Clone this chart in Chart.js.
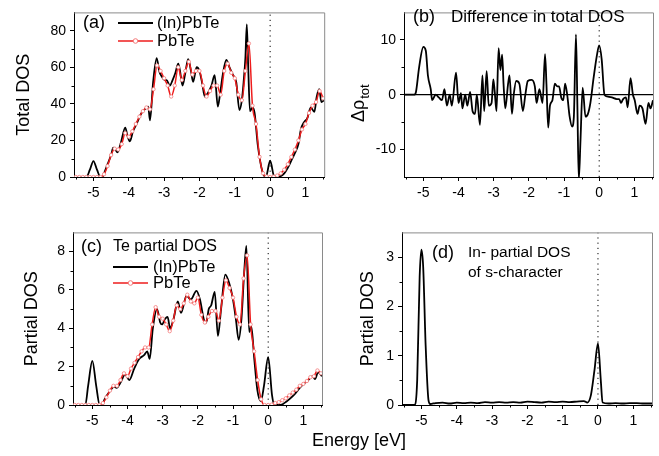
<!DOCTYPE html>
<html>
<head>
<meta charset="utf-8">
<script src="https://cdn.jsdelivr.net/npm/chart.js@4.4.0/dist/chart.umd.min.js"></script>
<style>
  body { margin: 0; background: #fff; width: 659px; height: 456px; overflow: hidden; position: relative;
         font-family: "Liberation Sans", Arial, sans-serif; }
  canvas { position: absolute; }
  #xlabel { position: absolute; left: 312px; top: 430px; font-size: 18px; line-height: 20px; color: #000; }
</style>
</head>
<body>
<canvas id="panelA" width="329" height="210" style="left:0;top:0"></canvas>
<canvas id="panelB" width="330" height="210" style="left:329px;top:0"></canvas>
<canvas id="panelC" width="329" height="236" style="left:0;top:220px"></canvas>
<canvas id="panelD" width="330" height="236" style="left:329px;top:220px"></canvas>
<div id="xlabel">Energy [eV]</div>
<script>
// energy axis
const xTicks = [-5, -4, -3, -2, -1, 0, 1];
const xMinor = [-5.5, -4.5, -3.5, -2.5, -1.5, -0.5, 0.5, 1.5];

// PbTe reference curves sampled every 0.1 eV
const energyGrid = [-5.5, -5.4, -5.3, -5.2, -5.1, -5.0, -4.9, -4.8, -4.7, -4.6,
  -4.5, -4.4, -4.3, -4.2, -4.1, -4.0, -3.9, -3.8, -3.7, -3.6,
  -3.5, -3.4, -3.3, -3.2, -3.1, -3.0, -2.9, -2.8, -2.7, -2.6,
  -2.5, -2.4, -2.3, -2.2, -2.1, -2.0, -1.9, -1.8, -1.7, -1.6,
  -1.5, -1.4, -1.3, -1.2, -1.1, -1.0, -0.9, -0.8, -0.7, -0.6,
  -0.5, -0.4, -0.3, -0.2, -0.1, 0.0, 0.1, 0.2, 0.3, 0.4,
  0.5, 0.6, 0.7, 0.8, 0.9, 1.0, 1.1, 1.2, 1.3, 1.4, 1.5];
const pbteTotal = [0, 0, 0, 0, 0, 0, 0, 0, 1.5, 6,
  12, 15.5, 15, 18, 24, 22, 25, 29, 33, 36,
  38, 37, 48, 61, 58, 54, 50, 44, 50, 60,
  53, 58, 63, 56, 58, 58, 50, 44, 47, 50,
  50, 45, 58, 62, 57, 54, 45, 42, 58, 73,
  39, 29, 11, 2, 0.3, 0, 0.2, 0.8, 2, 4,
  7, 11, 15, 20, 26, 29, 35, 39, 41, 47, 43];
const pbteTe = [0, 0, 0, 0, 0, 0, 0, 0, 0.1, 0.4,
  0.75, 1.0, 1.0, 1.3, 1.65, 1.5, 1.9, 2.2, 2.5, 2.8,
  3.0, 3.0, 4.2, 5.1, 4.6, 4.5, 4.2, 3.85, 4.4, 5.2,
  5.0, 5.3, 5.75, 5.4, 5.3, 5.6, 4.7, 4.3, 4.6, 4.9,
  4.9, 4.4, 5.6, 6.5, 6.1, 5.6, 4.6, 4.2, 6.6, 7.8,
  4.2, 2.8, 1.3, 0.3, 0, 0, 0.02, 0.1, 0.15, 0.25,
  0.35, 0.5, 0.65, 0.8, 1.0, 1.1, 1.25, 1.45, 1.5, 1.8, 1.65];

// (In)PbTe total DOS
const inTotalE = [-5.55, -5.20, -5.10, -5.00, -4.90, -4.80, -4.75, -4.70, -4.60, -4.50,
  -4.44, -4.38, -4.32, -4.22, -4.10, -4.03, -3.97, -3.88, -3.78, -3.64,
  -3.55, -3.45, -3.40, -3.31, -3.21, -3.14, -3.07, -2.98, -2.93, -2.84,
  -2.76, -2.68, -2.60, -2.55, -2.48, -2.40, -2.32, -2.24, -2.18, -2.08,
  -2.00, -1.92, -1.85, -1.76, -1.66, -1.57, -1.48, -1.42, -1.34, -1.24,
  -1.15, -1.05, -0.96, -0.87, -0.80, -0.75, -0.70, -0.66, -0.62, -0.57,
  -0.50, -0.44, -0.35, -0.25, -0.18, -0.12, 0.00, 0.12, 0.30, 0.40,
  0.50, 0.60, 0.70, 0.80, 0.87, 0.96, 1.05, 1.15, 1.25, 1.32,
  1.39, 1.45, 1.53];
const inTotalDos = [0, 0, 4, 8.7, 4, 0, 0, 2, 7, 12,
  16, 15, 13.5, 19, 27, 22, 19.5, 25, 29, 35,
  37, 38.5, 31, 52, 65, 58, 55, 53, 53, 50,
  53, 57, 62, 58, 50, 57, 64.5, 58, 52, 60,
  58, 51, 44, 46, 50, 55.7, 38.5, 45, 56, 64,
  60, 55.7, 52, 36.6, 42, 52, 65, 83.5, 60, 36,
  38, 35, 17.5, 5.4, 1, 0, 8.9, 0, 0.5, 2,
  5, 9, 13, 18, 26, 30, 32, 38, 35.6, 44,
  48, 41, 42];

// difference in total DOS
const diffE = [-5.55, -5.26, -5.21, -5.12, -5.00, -4.93, -4.87, -4.79, -4.75, -4.65,
  -4.56, -4.47, -4.40, -4.33, -4.25, -4.19, -4.07, -4.00, -3.93, -3.89,
  -3.81, -3.75, -3.67, -3.60, -3.53, -3.48, -3.39, -3.32, -3.27, -3.20,
  -3.14, -3.06, -3.01, -2.97, -2.92, -2.86, -2.81, -2.76, -2.72, -2.67,
  -2.59, -2.55, -2.48, -2.43, -2.36, -2.27, -2.17, -2.10, -2.03, -1.92,
  -1.83, -1.78, -1.70, -1.61, -1.54, -1.50, -1.45, -1.40, -1.33, -1.26,
  -1.19, -1.14, -1.08, -1.02, -0.97, -0.91, -0.84, -0.77, -0.72, -0.66,
  -0.62, -0.58, -0.53, -0.47, -0.39, -0.32, -0.25, -0.16, -0.07, 0.00,
  0.07, 0.15, 0.22, 0.36, 0.50, 0.57, 0.62, 0.68, 0.76, 0.81,
  0.89, 0.96, 1.01, 1.09, 1.15, 1.23, 1.32, 1.40, 1.46, 1.53];
const diffVal = [0, 0, 0.5, 5, 8.7, 8, 3.5, 1, -1, 0,
  -0.5, -1, 1, -2, 0, -2, 4, -1.5, 0.3, -2.5,
  0, -2, 0.5, -3, -3.5, 0, -5.5, 3.5, -3, 4.3,
  -2, -1.5, 2.8, 0.5, -3, 8.5, 4.5, 7.3, 2, -2.5,
  2, 3.5, -3.5, 0, 2.5, 2, -3, 0, 2.5, 2.7,
  1.5, -1.5, 1, -1.5, 7.4, 2, -6, -2, -1, 2,
  1.5, 1.5, -0.5, -1, 2, 0, -4, -5.8, -4, 11,
  -2, -15.5, -8, 1.3, -4, -3.5, -1.5, 3, 7, 9,
  6.5, 0, -0.3, -0.5, -0.8, -0.8, -1.5, -0.8, -0.5, -2.3,
  3, 0, -1, -3.5, -2, -2.5, -5.3, -1.5, -2.5, -1];

// (In)PbTe Te partial DOS
const inTeE = [-5.55, -5.20, -5.12, -5.00, -4.89, -4.79, -4.72, -4.65, -4.51, -4.39,
  -4.31, -4.19, -4.07, -3.95, -3.81, -3.67, -3.53, -3.44, -3.37, -3.28,
  -3.16, -3.07, -3.02, -2.93, -2.86, -2.79, -2.69, -2.57, -2.48, -2.32,
  -2.20, -2.04, -1.94, -1.82, -1.76, -1.69, -1.62, -1.52, -1.43, -1.34,
  -1.22, -1.10, -1.01, -0.92, -0.84, -0.76, -0.68, -0.62, -0.54, -0.48,
  -0.40, -0.31, -0.21, -0.12, 0.00, 0.11, 0.18, 0.35, 0.53, 0.72,
  0.95, 1.14, 1.26, 1.33, 1.42, 1.53];
const inTeDos = [0, 0, 1, 2.3, 1, 0, 0, 0.3, 0.7, 0.95,
  0.9, 1.2, 1.6, 1.3, 1.9, 2.4, 2.6, 2.8, 2.4, 4.0,
  5.0, 4.3, 4.2, 4.5, 4.6, 4.0, 4.5, 5.4, 4.8, 5.7,
  5.5, 5.95, 5.5, 4.4, 4.3, 5.0, 5.2, 5.9, 3.6, 5.0,
  6.8, 6.3, 5.6, 4.5, 3.4, 4.5, 7.0, 8.3, 3.8, 4.1,
  2.5, 0.8, 0.2, 1.0, 2.5, 0.5, 0, 0, 0.2, 0.5,
  1.0, 1.3, 1.5, 1.35, 1.7, 1.5];

// In s-character partial DOS
const inSE = [-5.55, -5.20, -5.12, -5.05, -5.00, -4.95, -4.88, -4.80, -4.75, -4.60,
  -4.40, -4.20, -4.00, -3.80, -3.60, -3.40, -3.20, -3.00, -2.80, -2.60,
  -2.40, -2.20, -2.00, -1.80, -1.60, -1.40, -1.20, -1.00, -0.80, -0.60,
  -0.40, -0.30, -0.20, -0.10, 0.00, 0.08, 0.13, 0.30, 0.50, 0.70,
  0.90, 1.10, 1.30, 1.53];
const inSDos = [0, 0, 0.5, 2.6, 3.15, 2.8, 1.2, 0.1, 0.02, 0.04,
  0.05, 0.03, 0.05, 0.04, 0.05, 0.04, 0.06, 0.05, 0.06, 0.05,
  0.06, 0.05, 0.07, 0.06, 0.05, 0.07, 0.06, 0.07, 0.06, 0.07,
  0.08, 0.05, 0.2, 0.7, 1.25, 0.5, 0.05, 0.03, 0.04, 0.03,
  0.04, 0.04, 0.03, 0.03];

Chart.defaults.font.family = '"Liberation Sans", Arial, sans-serif';
Chart.defaults.color = '#000';

const RED = '#ee1c1c';
const PINK = '#f47a7a';

function pts(xs, ys) {
  return xs.map((e, i) => ({ x: e, y: ys[i] }));
}

function blackLine(xs, ys) {
  return {
    data: pts(xs, ys), borderColor: '#000', borderWidth: 1.8, pointRadius: 0,
    cubicInterpolationMode: 'monotone', order: 1
  };
}

function redLine(xs, ys) {
  return {
    data: pts(xs, ys), borderColor: RED, borderWidth: 1.5,
    pointRadius: 1.7, pointBorderWidth: 0.8, pointBackgroundColor: '#fff', pointBorderColor: PINK,
    cubicInterpolationMode: 'monotone', order: 0
  };
}

function fermiLine(lo, hi) {
  return {
    data: [{ x: 0, y: lo }, { x: 0, y: hi }], borderColor: '#000', borderWidth: 1,
    borderDash: [1.2, 4], pointRadius: 0, order: 2
  };
}

function dosPanel(canvasId, p) {
  const decor = {
    id: 'decor',
    afterDraw(chart) {
      const { ctx, chartArea: { top, bottom, left, right }, scales: { x, y } } = chart;
      ctx.save();
      // thin grey frame on top and right
      ctx.strokeStyle = '#8a8a8a';
      ctx.lineWidth = 1;
      ctx.beginPath();
      ctx.moveTo(left, top + 0.5);
      ctx.lineTo(right + 0.5, top + 0.5);
      ctx.lineTo(right + 0.5, bottom);
      ctx.stroke();

      // minor ticks
      ctx.strokeStyle = '#000';
      ctx.beginPath();
      xMinor.forEach(v => {
        const px = Math.round(x.getPixelForValue(v)) + 0.5;
        ctx.moveTo(px, bottom); ctx.lineTo(px, bottom + 2.5);
      });
      p.yMinor.forEach(v => {
        const py = Math.round(y.getPixelForValue(v)) + 0.5;
        ctx.moveTo(left, py); ctx.lineTo(left - 2.5, py);
      });
      ctx.stroke();

      // notes
      ctx.fillStyle = '#000';
      ctx.textBaseline = 'middle';
      ctx.textAlign = 'left';
      p.notes.forEach(n => {
        ctx.font = n.size + 'px "Liberation Sans", Arial, sans-serif';
        ctx.fillText(n.text, n.x, n.y);
      });

      // legend
      if (p.legend) {
        const L = p.legend;
        ctx.font = L.size + 'px "Liberation Sans", Arial, sans-serif';
        ctx.lineWidth = 1.8;
        ctx.strokeStyle = '#000';
        ctx.beginPath(); ctx.moveTo(L.x1, L.y1); ctx.lineTo(L.x2, L.y1); ctx.stroke();
        ctx.fillText('(In)PbTe', L.tx, L.y1);
        ctx.lineWidth = 1.5;
        ctx.strokeStyle = RED;
        ctx.beginPath(); ctx.moveTo(L.x1, L.y2); ctx.lineTo(L.x2, L.y2); ctx.stroke();
        ctx.beginPath();
        ctx.arc((L.x1 + L.x2) / 2, L.y2, 2.3, 0, Math.PI * 2);
        ctx.fillStyle = '#fff'; ctx.fill();
        ctx.lineWidth = 1; ctx.strokeStyle = PINK; ctx.stroke();
        ctx.fillStyle = '#000';
        ctx.fillText('PbTe', L.tx, L.y2);
      }

      // rotated delta-rho title with subscript
      if (p.rhoTitle) {
        const R = p.rhoTitle;
        ctx.translate(R.x, R.y);
        ctx.rotate(-Math.PI / 2);
        ctx.textBaseline = 'alphabetic';
        ctx.font = '18px "Liberation Sans", Arial, sans-serif';
        ctx.fillText('\u0394\u03c1', 0, 0);
        const w = ctx.measureText('\u0394\u03c1').width;
        ctx.font = '13px "Liberation Sans", Arial, sans-serif';
        ctx.fillText('tot', w + 1, 5);
      }
      ctx.restore();
    }
  };

  return new Chart(document.getElementById(canvasId), {
    type: 'line',
    data: { datasets: p.datasets },
    options: {
      responsive: false,
      animation: false,
      layout: { padding: p.pad },
      plugins: { legend: { display: false }, tooltip: { enabled: false } },
      scales: {
        x: {
          type: 'linear', min: -5.55, max: 1.53,
          afterBuildTicks: s => { s.ticks = xTicks.map(v => ({ value: v })); },
          afterFit: s => { s.height = p.xHeight; },
          ticks: { font: { size: 14 }, padding: 4, maxRotation: 0 },
          grid: { drawOnChartArea: false, drawTicks: true, tickLength: 4, color: '#000' },
          border: { color: '#000', width: 1 }
        },
        y: {
          type: 'linear', min: p.yMin, max: p.yMax,
          afterBuildTicks: s => { s.ticks = p.yTicks.map(v => ({ value: v })); },
          afterFit: s => { s.width = p.yWidth; },
          ticks: { font: { size: 14 }, padding: 4 },
          grid: { drawOnChartArea: false, drawTicks: true, tickLength: 4, color: '#000' },
          border: { color: '#000', width: 1 },
          title: {
            display: !!p.yTitle, text: p.yTitle || '', font: { size: 18 },
            padding: { top: p.titlePad || 0, bottom: 0 }
          }
        }
      }
    },
    plugins: [decor]
  });
}

dosPanel('panelA', {
  pad: { top: 4, right: 4, left: 0, bottom: 0 }, yWidth: 74, xHeight: 33,
  yMin: 0, yMax: 90, yTicks: [0, 20, 40, 60, 80], yMinor: [10, 30, 50, 70],
  yTitle: 'Total DOS', titlePad: 13,
  notes: [{ text: '(a)', x: 83, y: 23, size: 18 }],
  legend: { x1: 118, x2: 153, y1: 23, y2: 41, tx: 157, size: 16.5 },
  datasets: [fermiLine(0, 90), blackLine(inTotalE, inTotalDos), redLine(energyGrid, pbteTotal)]
});

dosPanel('panelB', {
  pad: { top: 4, right: 6, left: 0, bottom: 0 }, yWidth: 75, xHeight: 33,
  yMin: -15, yMax: 15, yTicks: [-10, 0, 10], yMinor: [-5, 5],
  rhoTitle: { x: 35, y: 122 },
  notes: [{ text: '(b)', x: 84, y: 17, size: 18 },
          { text: 'Difference in total DOS', x: 122, y: 17, size: 17 }],
  datasets: [
    fermiLine(-15, 15),
    { data: pts([-5.55, 1.53], [0, 0]), borderColor: '#000', borderWidth: 1.2, pointRadius: 0, order: 3 },
    blackLine(diffE, diffVal)
  ]
});

dosPanel('panelC', {
  pad: { top: 12, right: 7, left: 0, bottom: 0 }, yWidth: 73, xHeight: 51,
  yMin: 0, yMax: 9, yTicks: [0, 2, 4, 6, 8], yMinor: [1, 3, 5, 7],
  yTitle: 'Partial DOS', titlePad: 21,
  notes: [{ text: '(c)', x: 81, y: 27, size: 18 },
          { text: 'Te partial DOS', x: 113, y: 27, size: 16 }],
  legend: { x1: 113, x2: 148, y1: 47, y2: 63, tx: 153, size: 16.5 },
  datasets: [fermiLine(0, 9), blackLine(inTeE, inTeDos), redLine(energyGrid, pbteTe)]
});

dosPanel('panelD', {
  pad: { top: 12, right: 7, left: 0, bottom: 0 }, yWidth: 73, xHeight: 51,
  yMin: 0, yMax: 3.5, yTicks: [0, 1, 2, 3], yMinor: [0.5, 1.5, 2.5],
  yTitle: 'Partial DOS', titlePad: 28,
  notes: [{ text: '(d)', x: 103, y: 33, size: 18 },
          { text: 'In- partial DOS', x: 139, y: 33, size: 15.5 },
          { text: 'of s-character', x: 139, y: 53, size: 15.5 }],
  datasets: [fermiLine(0, 3.5), blackLine(inSE, inSDos)]
});
</script>
</body>
</html>
